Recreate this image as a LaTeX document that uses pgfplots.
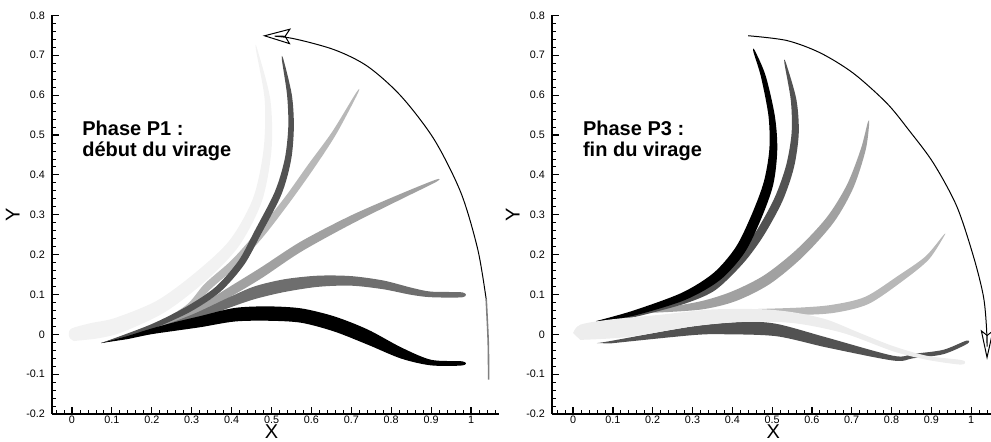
\documentclass[border=0pt]{standalone}
\usepackage{pgfplots}
\pgfplotsset{compat=1.18}
\usepackage{fontspec}
\setmainfont{Liberation Sans}
\usetikzlibrary{arrows.meta}

\definecolor{faintL}{gray}{0.95}
\definecolor{faint}{gray}{0.93}
\definecolor{dgray}{gray}{0.32}
\definecolor{mgray}{gray}{0.43}
\definecolor{lgray}{gray}{0.63}
\definecolor{llgray}{gray}{0.72}

\pgfplotsset{
  panel/.style={
    scale only axis, clip=false,
    height=199.3pt,
    ymin=-0.2, ymax=0.8,
    axis lines*=left,
    xtick pos=left, ytick pos=left,
    tick align=inside,
    major tick length=3.5pt, minor tick length=1.8pt,
    axis line style={line width=0.8pt},
    major tick style={black, line width=0.6pt},
    minor tick style={black, line width=0.4pt},
    xtick={0,0.1,0.2,0.3,0.4,0.5,0.6,0.7,0.8,0.9,1},
    ytick={-0.2,-0.1,0,0.1,0.2,0.3,0.4,0.5,0.6,0.7,0.8},
    minor ytick={-0.18,-0.16,...,0.79},
    tick label style={font=\fontsize{5.4}{6}\selectfont},
    xticklabel style={inner sep=0.4pt, yshift=-0.2pt},
    /pgf/number format/assume math mode=true,
    label style={font=\bfseries\fontsize{5.6}{6.5}\selectfont, inner sep=0pt},
    xlabel={X}, ylabel={Y},
    every axis y label/.style={rotate=90, anchor=center},
    every axis x label/.style={anchor=base},
  },
  band/.style={draw=none, fill=#1, smooth, tension=0.5, forget plot},
}
\tikzset{phase/.style={anchor=base west, inner sep=0pt, font=\bfseries\fontsize{10}{10}\selectfont}}

\begin{document}
\begin{tikzpicture}
\useasboundingbox (0,0) rectangle (495.5pt,220.5pt);

% Phase P1
\begin{axis}[panel, at={(26pt,13.5pt)}, anchor=south west,
    width=223.5pt, xmin=-0.05, xmax=1.07,
    minor xtick={-0.04,-0.02,...,1.07},
    xlabel style={at={(axis description cs:0.491,-0.0615)}},
    ylabel style={at={(axis description cs:-0.088,0.5)}}]
\addplot[band=faintL] coordinates {(0.005,-0.017) (-0.005,-0.01) (-0.008,0.002) (0.0,0.015) (0.047,0.028) (0.108,0.041) (0.214,0.085) (0.312,0.157) (0.396,0.237) (0.454,0.342) (0.48,0.463) (0.483,0.587) (0.461,0.714) (0.465,0.713) (0.497,0.589) (0.5,0.463) (0.476,0.334) (0.418,0.221) (0.334,0.133) (0.232,0.055) (0.12,0.003) (0.053,-0.012)};
\addplot[band=llgray] coordinates {(0.073,-0.022) (0.196,0.021) (0.285,0.072) (0.333,0.127) (0.4,0.186) (0.466,0.26) (0.533,0.343) (0.592,0.426) (0.652,0.508) (0.712,0.606) (0.716,0.604) (0.662,0.502) (0.606,0.416) (0.547,0.333) (0.482,0.248) (0.414,0.172) (0.347,0.113) (0.295,0.058) (0.2,0.009)};
\addplot[band=lgray] coordinates {(0.073,-0.022) (0.198,0.016) (0.3,0.06) (0.39,0.116) (0.474,0.168) (0.574,0.233) (0.699,0.298) (0.825,0.353) (0.912,0.388) (0.912,0.382) (0.825,0.339) (0.699,0.276) (0.574,0.207) (0.474,0.14) (0.39,0.09) (0.3,0.04) (0.198,0.004)};
\addplot[band=mgray] coordinates {(0.073,-0.022) (0.198,0.012) (0.3,0.049) (0.39,0.091) (0.457,0.12) (0.532,0.138) (0.616,0.147) (0.699,0.146) (0.78,0.135) (0.85,0.117) (0.9,0.107) (0.979,0.105) (0.979,0.093) (0.9,0.093) (0.85,0.099) (0.78,0.113) (0.699,0.122) (0.616,0.119) (0.532,0.106) (0.457,0.088) (0.39,0.065) (0.3,0.031) (0.198,0.002)};
\addplot[band=dgray] coordinates {(0.073,-0.022) (0.196,0.024) (0.286,0.069) (0.359,0.118) (0.417,0.184) (0.457,0.258) (0.508,0.357) (0.533,0.439) (0.542,0.52) (0.539,0.6) (0.526,0.689) (0.53,0.689) (0.551,0.6) (0.556,0.52) (0.549,0.437) (0.525,0.351) (0.473,0.25) (0.431,0.174) (0.371,0.106) (0.294,0.055) (0.2,0.012)};
\addplot[band=black] coordinates {(0.073,-0.022) (0.14,-0.004) (0.198,0.014) (0.26,0.031) (0.323,0.046) (0.407,0.066) (0.49,0.07) (0.574,0.065) (0.657,0.045) (0.741,0.012) (0.825,-0.033) (0.9,-0.064) (0.979,-0.068) (0.979,-0.078) (0.9,-0.078) (0.825,-0.061) (0.741,-0.026) (0.657,0.007) (0.574,0.029) (0.49,0.034) (0.407,0.032) (0.323,0.018) (0.26,0.009) (0.198,0.0) (0.14,-0.012)};
% rotation arrow
\addplot[gray, line width=0.8pt, smooth, forget plot] coordinates {(1.044,-0.114) (1.043,-0.02) (1.038,0.087)};
\addplot[black, line width=0.5pt, smooth, forget plot,
    -{Stealth[open, length=14pt, width=8pt, inset=2.5pt]}] coordinates {(1.038,0.087) (1.017,0.212) (0.975,0.354) (0.908,0.488) (0.825,0.597) (0.741,0.672) (0.657,0.714) (0.549,0.743) (0.478,0.749)};
\node[phase] at (axis cs:0.025,0.498) {Phase P1 :};
\node[phase] at (axis cs:0.025,0.446) {début du virage};
\end{axis}

% Phase P3
\begin{axis}[panel, at={(276pt,13.5pt)}, anchor=south west,
    width=219.5pt, xmin=-0.053, xmax=1.05,
    minor xtick={-0.04,-0.02,...,1.05},
    xlabel style={at={(axis description cs:0.504,-0.0615)}},
    ylabel style={at={(axis description cs:-0.0895,0.5)}}]
\addplot[band=llgray] coordinates {(0.45,0.063) (0.569,0.067) (0.651,0.074) (0.734,0.094) (0.817,0.147) (0.885,0.195) (0.93,0.248) (0.932,0.246) (0.893,0.187) (0.827,0.133) (0.742,0.076) (0.657,0.054) (0.571,0.049) (0.45,0.053)};
\addplot[band=lgray] coordinates {(0.2,0.062) (0.317,0.082) (0.398,0.107) (0.48,0.148) (0.562,0.213) (0.637,0.293) (0.688,0.375) (0.723,0.465) (0.74,0.53) (0.744,0.53) (0.735,0.462) (0.704,0.367) (0.655,0.281) (0.578,0.195) (0.494,0.126) (0.408,0.083) (0.321,0.062) (0.2,0.054)};
\addplot[band=dgray] coordinates {(0.1,0.04) (0.198,0.065) (0.282,0.094) (0.347,0.128) (0.412,0.194) (0.461,0.26) (0.506,0.342) (0.535,0.423) (0.549,0.505) (0.547,0.587) (0.531,0.68) (0.535,0.68) (0.561,0.589) (0.567,0.505) (0.555,0.419) (0.526,0.334) (0.479,0.248) (0.429,0.18) (0.359,0.112) (0.29,0.08) (0.202,0.055) (0.1,0.03)};
\addplot[band=black] coordinates {(0.057,0.033) (0.15,0.059) (0.273,0.104) (0.353,0.154) (0.409,0.219) (0.449,0.301) (0.479,0.382) (0.493,0.463) (0.491,0.547) (0.472,0.646) (0.453,0.709) (0.457,0.711) (0.484,0.648) (0.507,0.547) (0.513,0.463) (0.503,0.376) (0.473,0.291) (0.431,0.205) (0.369,0.136) (0.281,0.086) (0.154,0.047) (0.061,0.031)};
\addplot[band=dgray] coordinates {(0.06,-0.022) (0.093,-0.017) (0.302,0.02) (0.428,0.031) (0.512,0.026) (0.637,-0.008) (0.805,-0.054) (0.855,-0.049) (0.93,-0.039) (0.988,-0.016) (0.99,-0.024) (0.93,-0.05) (0.855,-0.06) (0.805,-0.066) (0.637,-0.033) (0.512,-0.005) (0.386,0.0) (0.302,-0.002) (0.093,-0.023)};
\addplot[band=faint] coordinates {(0.0,0.003) (0.018,0.024) (0.093,0.037) (0.219,0.049) (0.344,0.062) (0.47,0.063) (0.554,0.055) (0.637,0.037) (0.721,0.003) (0.805,-0.03) (0.889,-0.054) (0.972,-0.064) (0.985,-0.07) (0.972,-0.076) (0.889,-0.064) (0.805,-0.043) (0.679,0.003) (0.554,0.028) (0.428,0.031) (0.302,0.02) (0.135,-0.007) (0.018,-0.014)};
% rotation arrow
\addplot[black, line width=0.5pt, smooth, forget plot,
    -{Stealth[open, length=15pt, width=6.5pt, inset=2.5pt]}] coordinates {(0.44,0.749) (0.537,0.737) (0.621,0.706) (0.704,0.655) (0.788,0.58) (0.843,0.513) (0.905,0.43) (0.964,0.321) (1.006,0.195) (1.031,0.095) (1.039,0.011) (1.04,-0.064)};
\node[phase] at (axis cs:0.024,0.498) {Phase P3 :};
\node[phase] at (axis cs:0.024,0.446) {fin du virage};
\end{axis}
\end{tikzpicture}
\end{document}
